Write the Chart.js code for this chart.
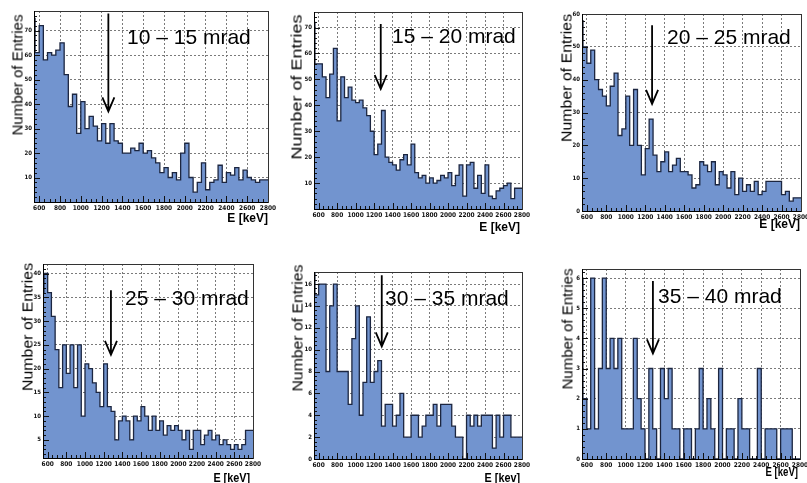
<!DOCTYPE html>
<html>
<head>
<meta charset="utf-8">
<script src="https://cdn.jsdelivr.net/npm/chart.js@4.4.0/dist/chart.umd.min.js"></script>
<style>
  body { margin: 0; background: #fff; width: 807px; height: 483px; overflow: hidden; position: relative;
         font-family: "Liberation Sans", Arial, sans-serif; }
  .box { position: absolute; }
  .mrad { position: absolute; white-space: nowrap; font-size: 21px; line-height: 1; transform: translateY(-50%); color: #000; }
  .ytitle { position: absolute; white-space: nowrap; font-size: 15px; line-height: 1; color: #000; }
  .xtitle { position: absolute; white-space: nowrap; font-size: 12px; font-weight: bold; line-height: 1; color: #000; }
</style>
</head>
<body>
<script>
// histogram binning (keV)
const binStart = 560;
const binWidth = 40;
const xMin = 550, xMax = 2800;
const xTickValues = [600, 800, 1000, 1200, 1400, 1600, 1800, 2000, 2200, 2400, 2600, 2800];

const panelLabels = ['10 – 15 mrad', '15 – 20 mrad', '20 – 25 mrad', '25 – 30 mrad', '30 – 35 mrad', '35 – 40 mrad'];
const xTitles = ['E [keV]', 'E [keV]', 'E [keV]', 'E [keV]', 'E [kev]', 'E [keV]'];

// entries per bin
const entries10_15 = [75,61,72,58,61,60,62,65,52,39,44,28,41,30,35,31,25,32,24,32,25,24,20,20,22,21,24,20,
                      21,18,16,12,14,10,12,9,20,24,10,4,8,16,5,8,9,15,8,12,11,14,9,13,10,9,8,9];
const entries15_20 = [72,56,56,51,43,52,62,34,51,43,47,42,41,42,39,36,30,21,25,38,20,18,17,15,19,21,17,25,
                      14,12,13,10,12,10,11,13,12,14,9,13,17,5,17,18,8,13,6,17,5,4,7,8,9,10,4,8];
const entries20_25 = [58,50,45,49,40,37,35,32,38,42,23,25,35,20,37,20,11,19,28,17,12,15,18,12,14,16,12,12,
                      11,7,8,15,14,12,15,8,12,11,7,12,5,10,6,8,6,9,5,6,9,9,9,9,5,6,3,4];
const entries25_30 = [36,40,36,31,24,16,25,19,25,16,25,10,21,20,17,15,12,21,12,11,5,9,10,9,5,10,9,12,
                      10,7,10,7,9,6,8,7,8,7,5,7,3,7,7,4,6,7,5,6,4,5,4,3,4,3,4,7];
const entries30_35 = [17,15,16,16,8,14,16,8,8,8,5,11,14,4,7,13,7,8,9,3,5,5,3,4,6,2,2,4,
                      4,2,3,4,4,5,3,5,5,5,3,2,2,0,4,3,4,3,4,4,4,1,4,2,4,4,2,2];
const entries35_40 = [6,2,1,6,1,3,6,3,4,3,4,1,1,1,4,2,1,0,3,1,0,3,2,3,1,1,0,1,
                      1,0,1,3,1,2,1,0,3,0,1,1,0,2,1,1,0,0,3,0,1,1,1,0,1,1,1,0];

// y tick labels per panel
const yTicks10_15 = [10, 20, 30, 40, 50, 60, 70];
const yTicks15_20 = [10, 20, 30, 40, 50, 60, 70];
const yTicks20_25 = [0, 10, 20, 30, 40, 50, 60];
const yTicks25_30 = [5, 10, 15, 20, 25, 30, 35, 40];
const yTicks30_35 = [0, 2, 4, 6, 8, 10, 12, 14, 16];
const yTicks35_40 = [0, 1, 2, 3, 4, 5, 6];

// energy of the marked line (keV)
const arrowEnergy = [1265, 1272, 1270, 1278, 1283, 1282];

const fillColor = '#7294cf';
const lineColor = '#1c2640';
const tickFont = "'Liberation Sans Narrow', 'DejaVu Sans Condensed', 'Liberation Sans', Arial, sans-serif";

// placement of each pad on the page (plot frame in px)
const panels = [
  { values: entries10_15, yTicks: yTicks10_15, yMin: 0,   yMax: 78,   L: 34,  R: 268, T: 11,  B: 202,
    arrow: [77, 37],   label: [127, 36],  ytitle: [17, 75, 1.0],   xtitle: [268, 218, 1.0] },
  { values: entries15_20, yTicks: yTicks15_20, yMin: 0,   yMax: 76,   L: 314, R: 522, T: 12,  B: 209,
    arrow: [71.4, 46.3], label: [392, 35], ytitle: [296, 87, 1.2],  xtitle: [520, 227, 1.0] },
  { values: entries20_25, yTicks: yTicks20_25, yMin: 0,   yMax: 60,   L: 582, R: 801, T: 14,  B: 211,
    arrow: [56.6, 32.6], label: [667, 36], ytitle: [566, 78, 1.06], xtitle: [800, 224, 1.0] },
  { values: entries25_30, yTicks: yTicks25_30, yMin: 1.2, yMax: 42,   L: 43,  R: 253, T: 264, B: 458,
    arrow: [36.5, 22.9], label: [125, 297], ytitle: [27, 327, 1.06], xtitle: [250, 478, 0.9] },
  { values: entries30_35, yTicks: yTicks30_35, yMin: 0,   yMax: 17.1, L: 314, R: 522, T: 272, B: 459,
    arrow: [16.8, 10.3], label: [385, 297], ytitle: [297, 328, 1.05], xtitle: [520, 478, 0.9] },
  { values: entries35_40, yTicks: yTicks35_40, yMin: 0,   yMax: 6.3,  L: 582, R: 800, T: 269, B: 459,
    arrow: [5.9, 3.5],   label: [658, 295], ytitle: [567, 329, 1.0], xtitle: [798, 472, 0.8] }
];

// frame, inner tick marks and the arrow
const padDecor = {
  id: 'padDecor',
  afterDatasetsDraw(chart, args, opts) {
    const { ctx, chartArea: a, scales: { x, y } } = chart;
    ctx.save();
    ctx.strokeStyle = '#111';
    ctx.lineWidth = 1;
    ctx.beginPath();
    for (let v = 600; v < xMax; v += 50) {
      const px = Math.round(x.getPixelForValue(v)) + 0.5;
      const len = v % 200 === 0 ? 6 : 3;
      ctx.moveTo(px, a.bottom); ctx.lineTo(px, a.bottom - len);
    }
    const major = opts.yTicks[1] - opts.yTicks[0];
    const minor = major / 5;
    for (let v = Math.ceil(y.min / minor) * minor; v <= y.max; v += minor) {
      const py = Math.round(y.getPixelForValue(v)) + 0.5;
      const isMajor = Math.abs(v / major - Math.round(v / major)) < 1e-6;
      ctx.moveTo(a.left, py); ctx.lineTo(a.left + (isMajor ? 6 : 3), py);
    }
    ctx.stroke();

    ctx.strokeStyle = '#333';
    ctx.strokeRect(Math.round(a.left) + 0.5, Math.round(a.top) + 0.5,
                   Math.round(a.right - a.left), Math.round(a.bottom - a.top));
    ctx.strokeStyle = '#000';
    ctx.beginPath();
    ctx.moveTo(Math.round(a.left) + 0.5, a.top); ctx.lineTo(Math.round(a.left) + 0.5, a.bottom);
    ctx.moveTo(a.left, Math.round(a.bottom) + 0.5); ctx.lineTo(a.right, Math.round(a.bottom) + 0.5);
    ctx.stroke();

    // arrow
    const ax = x.getPixelForValue(opts.energy);
    const top = y.getPixelForValue(opts.top), tip = y.getPixelForValue(opts.tip);
    ctx.lineWidth = 1.8;
    ctx.strokeStyle = '#000';
    ctx.beginPath();
    ctx.moveTo(ax, top); ctx.lineTo(ax, tip);
    ctx.moveTo(ax - 6, tip - 14); ctx.lineTo(ax, tip); ctx.lineTo(ax + 6, tip - 14);
    ctx.stroke();
    ctx.restore();
  }
};

const padL = 30, padT = 5, padR = 14, padB = 15;

panels.forEach((p, i) => {
  const box = document.createElement('div');
  box.className = 'box';
  box.style.left = (p.L - padL) + 'px';
  box.style.top = (p.T - padT) + 'px';
  box.style.width = (p.R - p.L + padL + padR) + 'px';
  box.style.height = (p.B - p.T + padT + padB) + 'px';
  const canvas = document.createElement('canvas');
  box.appendChild(canvas);
  document.body.appendChild(box);

  const pts = [{ x: xMin, y: p.values[0] }];
  p.values.forEach((v, k) => pts.push({ x: binStart + k * binWidth, y: v }));
  pts.push({ x: xMax, y: p.values[p.values.length - 1] });

  new Chart(canvas, {
    type: 'line',
    data: {
      datasets: [{
        data: pts,
        stepped: 'after',
        fill: 'origin',
        backgroundColor: fillColor,
        borderColor: lineColor,
        borderWidth: 1.3,
        pointRadius: 0
      }]
    },
    options: {
      responsive: true,
      maintainAspectRatio: false,
      animation: false,
      layout: { padding: { left: 0, top: padT, right: padR, bottom: 0 } },
      plugins: {
        legend: { display: false },
        tooltip: { enabled: false },
        padDecor: { energy: arrowEnergy[i], top: p.arrow[0], tip: p.arrow[1], yTicks: p.yTicks }
      },
      scales: {
        x: {
          type: 'linear',
          min: xMin,
          max: xMax,
          afterBuildTicks: s => { s.ticks = xTickValues.map(v => ({ value: v })); },
          afterFit: s => { s.height = padB; s.paddingLeft = 0; s.paddingRight = 0; },
          ticks: { autoSkip: false, maxRotation: 0, padding: 2, color: '#111',
                   callback: v => String(v),
                   font: { size: 6.5, weight: 'bold', family: tickFont } },
          grid: { drawTicks: false, color: '#7a7a7a', lineWidth: 1 },
          border: { display: false, dash: [2, 2] }
        },
        y: {
          min: p.yMin,
          max: p.yMax,
          afterBuildTicks: s => { s.ticks = p.yTicks.map(v => ({ value: v })); },
          afterFit: s => { s.width = padL; s.paddingTop = 0; s.paddingBottom = 0; },
          ticks: { autoSkip: false, padding: 2, color: '#111',
                   callback: v => String(v),
                   font: { size: 6, weight: 'bold', family: tickFont } },
          grid: { drawTicks: false, color: '#7a7a7a', lineWidth: 1 },
          border: { display: false, dash: [2, 2] }
        }
      }
    },
    plugins: [padDecor]
  });

  const lab = document.createElement('div');
  lab.className = 'mrad';
  lab.textContent = panelLabels[i];
  lab.style.left = p.label[0] + 'px';
  lab.style.top = p.label[1] + 'px';
  document.body.appendChild(lab);

  const yt = document.createElement('div');
  yt.className = 'ytitle';
  yt.textContent = 'Number of Entries';
  yt.style.left = p.ytitle[0] + 'px';
  yt.style.top = p.ytitle[1] + 'px';
  yt.style.transform = 'translate(-50%, -50%) rotate(-90deg) scaleX(' + p.ytitle[2] + ')';
  document.body.appendChild(yt);

  const xt = document.createElement('div');
  xt.className = 'xtitle';
  xt.textContent = xTitles[i];
  xt.style.left = p.xtitle[0] + 'px';
  xt.style.top = p.xtitle[1] + 'px';
  xt.style.transform = 'translate(-100%, -50%) scaleX(' + p.xtitle[2] + ')';
  xt.style.transformOrigin = '100% 50%';
  document.body.appendChild(xt);
});
</script>
</body>
</html>
